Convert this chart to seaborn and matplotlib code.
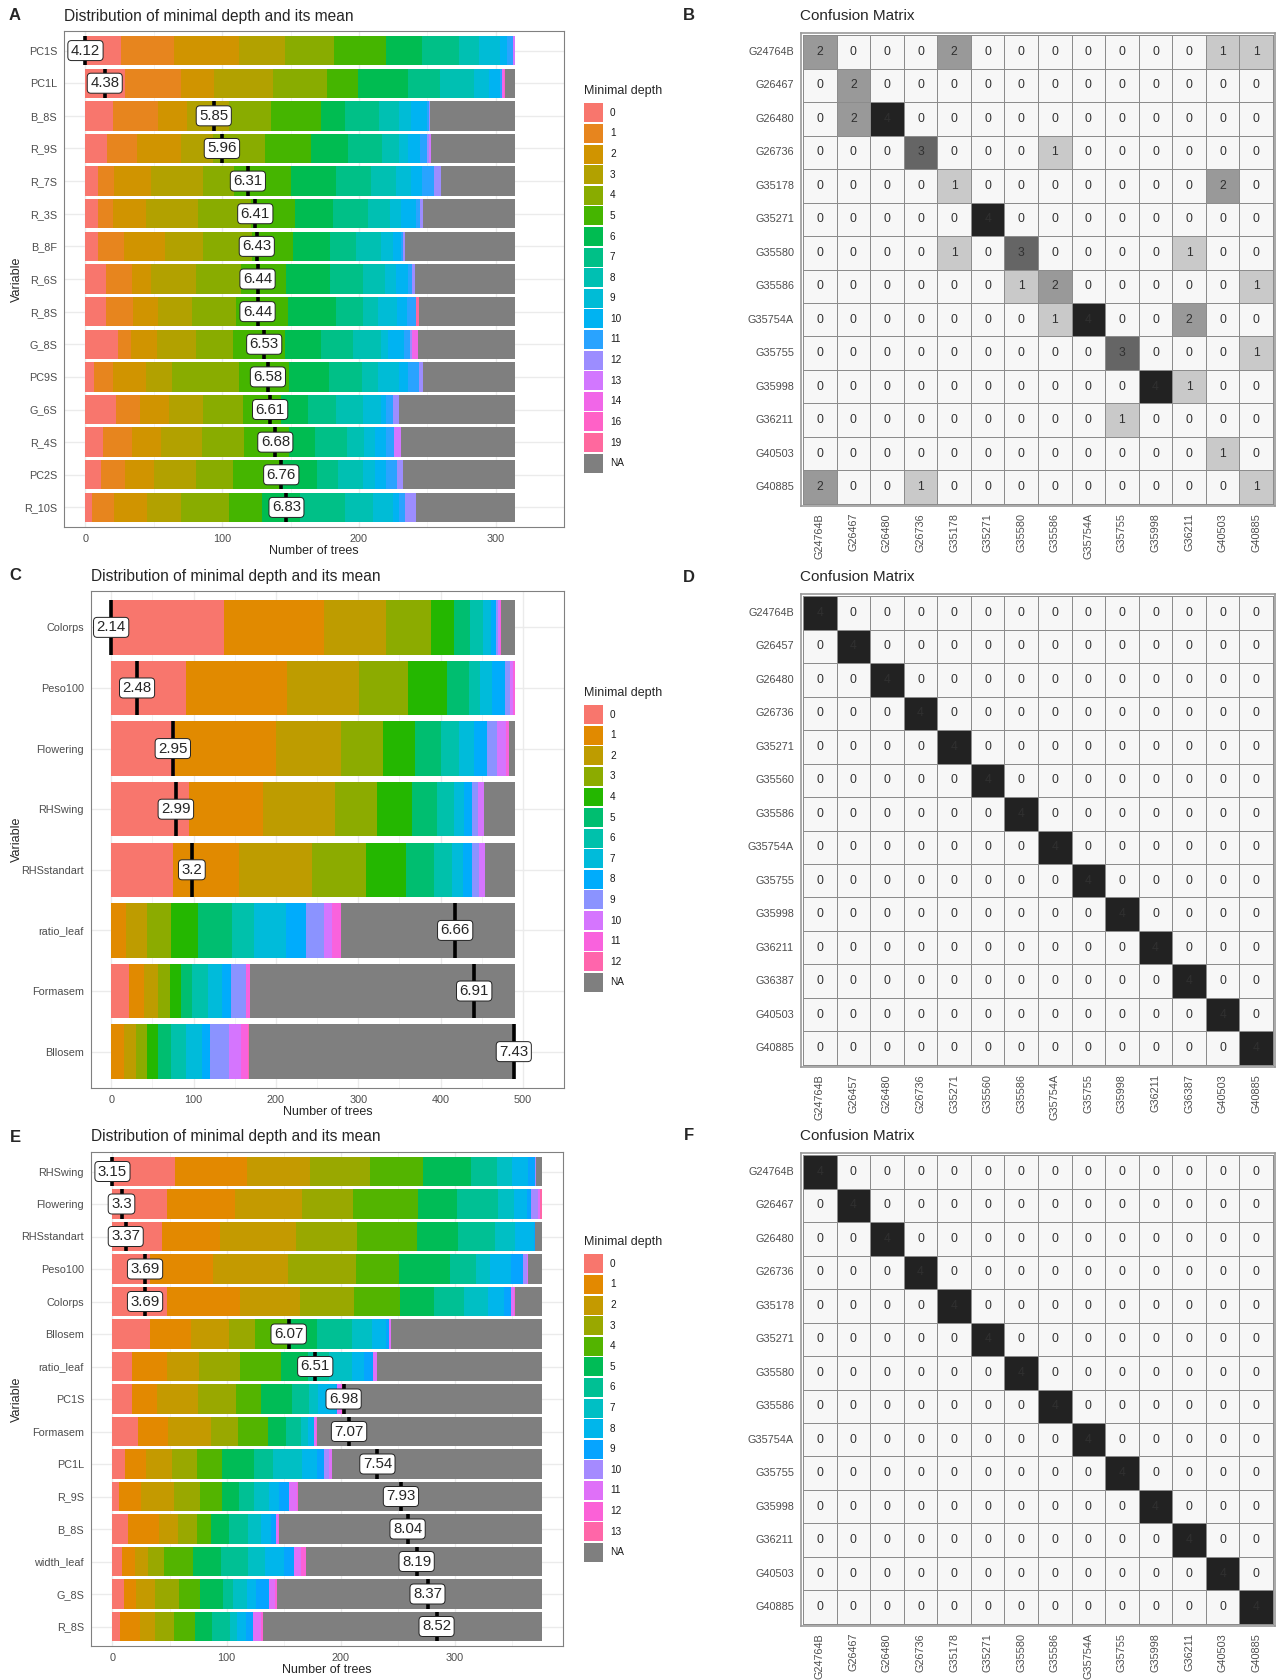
import math
import numpy as np
import pandas as pd
import matplotlib
matplotlib.use("Agg")
import matplotlib.pyplot as plt
from matplotlib.patches import Rectangle
from matplotlib.colors import LinearSegmentedColormap
import seaborn as sns

# ------------------------------------------------------------------ data
A_vars = ["PC1S", "PC1L", "B_8S", "R_9S", "R_7S", "R_3S", "B_8F", "R_6S",
          "R_8S", "G_8S", "PC9S", "G_6S", "R_4S", "PC2S", "R_10S"]
A_means = [4.12, 4.38, 5.85, 5.96, 6.31, 6.41, 6.43, 6.44, 6.44, 6.53,
           6.58, 6.61, 6.68, 6.76, 6.83]
A_levels = ["0", "1", "2", "3", "4", "5", "6", "7", "8", "9", "10", "11",
            "12", "13", "14", "16", "19", "NA"]
A_counts = [
    [26, 39, 47, 34, 36, 38, 26, 27, 15, 15, 5, 5, 0, 1, 0, 0, 0, 0],
    [29, 41, 24, 43, 40, 22, 37, 23, 25, 11, 8, 2, 0, 0, 1, 1, 0, 7],
    [20, 33, 21, 31, 31, 36, 18, 25, 14, 9, 12, 1, 1, 0, 0, 0, 0, 62],
    [16, 22, 32, 23, 38, 34, 27, 25, 12, 7, 9, 5, 1, 2, 0, 0, 0, 61],
    [9, 12, 27, 38, 23, 41, 33, 26, 18, 11, 8, 9, 5, 0, 0, 0, 0, 54],
    [9, 11, 24, 38, 39, 32, 28, 26, 16, 8, 11, 3, 2, 0, 0, 0, 0, 67],
    [9, 19, 30, 28, 36, 30, 27, 19, 18, 9, 6, 1, 2, 0, 0, 0, 0, 80],
    [15, 19, 14, 33, 33, 33, 32, 24, 16, 8, 9, 3, 2, 0, 0, 0, 0, 73],
    [15, 20, 18, 25, 32, 38, 35, 20, 11, 14, 7, 7, 0, 0, 0, 0, 2, 70],
    [24, 9, 19, 29, 27, 38, 26, 24, 20, 5, 12, 4, 2, 0, 4, 0, 0, 71],
    [6, 14, 24, 19, 49, 37, 29, 24, 12, 15, 7, 8, 3, 0, 0, 0, 0, 67],
    [22, 18, 21, 25, 29, 28, 20, 20, 20, 13, 4, 5, 4, 0, 0, 0, 0, 85],
    [13, 21, 21, 30, 31, 33, 19, 23, 13, 8, 8, 6, 0, 5, 0, 0, 0, 83],
    [11, 18, 21, 31, 27, 36, 25, 16, 18, 9, 8, 8, 4, 0, 0, 0, 0, 82],
    [5, 16, 24, 25, 35, 24, 28, 33, 20, 15, 4, 5, 8, 0, 0, 0, 0, 72],
]
A_label_span = 147
A_xticks = [0, 100, 200, 300]

C_vars = ["Colorps", "Peso100", "Flowering", "RHSwing", "RHSstandart",
          "ratio_leaf", "Formasem", "Bllosem"]
C_means = [2.14, 2.48, 2.95, 2.99, 3.2, 6.66, 6.91, 7.43]
C_levels = ["0", "1", "2", "3", "4", "5", "6", "7", "8", "9", "10", "11",
            "12", "NA"]
C_counts = [
    [137, 122, 75, 54, 28, 20, 16, 9, 6, 3, 2, 2, 0, 16],
    [91, 122, 88, 59, 48, 27, 13, 15, 15, 6, 4, 2, 0, 0],
    [77, 123, 79, 51, 39, 32, 21, 19, 16, 12, 11, 3, 0, 7],
    [94, 90, 88, 51, 42, 31, 21, 11, 10, 8, 7, 0, 0, 37],
    [75, 80, 89, 65, 49, 34, 22, 13, 11, 9, 7, 0, 0, 36],
    [0, 18, 25, 30, 33, 41, 27, 38, 25, 21, 10, 11, 0, 211],
    [22, 18, 17, 14, 14, 13, 19, 18, 10, 19, 0, 5, 0, 321],
    [0, 15, 15, 13, 14, 16, 18, 19, 10, 23, 15, 8, 2, 322],
]
C_label_span = 489
C_xticks = [0, 100, 200, 300, 400, 500]

E_vars = ["RHSwing", "Flowering", "RHSstandart", "Peso100", "Colorps",
          "Bllosem", "ratio_leaf", "PC1S", "Formasem", "PC1L", "R_9S",
          "B_8S", "width_leaf", "G_8S", "R_8S"]
E_means = [3.15, 3.3, 3.37, 3.69, 3.69, 6.07, 6.51, 6.98, 7.07, 7.54, 7.93,
           8.04, 8.19, 8.37, 8.52]
E_levels = ["0", "1", "2", "3", "4", "5", "6", "7", "8", "9", "10", "11",
            "12", "13", "NA"]
E_counts = [
    [55, 63, 55, 53, 46, 42, 23, 13, 14, 6, 1, 0, 0, 0, 5],
    [48, 59, 59, 45, 57, 34, 36, 14, 11, 4, 6, 2, 0, 1, 0],
    [43, 51, 67, 53, 53, 36, 32, 18, 16, 1, 0, 0, 0, 0, 6],
    [33, 55, 66, 59, 38, 45, 23, 12, 18, 11, 3, 1, 0, 0, 12],
    [48, 64, 52, 48, 40, 30, 26, 21, 14, 6, 0, 3, 1, 0, 23],
    [33, 36, 33, 23, 28, 26, 31, 17, 13, 2, 0, 2, 0, 0, 132],
    [17, 31, 28, 36, 36, 23, 19, 20, 10, 8, 0, 4, 0, 0, 144],
    [17, 22, 36, 33, 22, 27, 15, 8, 16, 1, 0, 3, 1, 0, 175],
    [22, 27, 37, 24, 26, 16, 13, 6, 6, 0, 0, 1, 1, 0, 197],
    [11, 18, 23, 22, 22, 28, 17, 25, 13, 6, 5, 2, 0, 0, 184],
    [6, 19, 29, 23, 19, 15, 13, 13, 9, 9, 0, 7, 1, 0, 213],
    [14, 27, 16, 17, 12, 16, 17, 11, 9, 4, 0, 2, 1, 0, 230],
    [8, 12, 11, 14, 26, 24, 24, 15, 16, 9, 0, 6, 5, 0, 206],
    [10, 11, 16, 21, 19, 20, 9, 12, 8, 11, 0, 5, 2, 0, 232],
    [7, 17, 13, 17, 18, 15, 16, 6, 8, 6, 0, 7, 2, 0, 244],
]
E_label_span = 284
E_xticks = [0, 100, 200, 300]

B_labels = ["G24764B", "G26467", "G26480", "G26736", "G35178", "G35271",
            "G35580", "G35586", "G35754A", "G35755", "G35998", "G36211",
            "G40503", "G40885"]
B_matrix = [
    [2, 0, 0, 0, 2, 0, 0, 0, 0, 0, 0, 0, 1, 1],
    [0, 2, 0, 0, 0, 0, 0, 0, 0, 0, 0, 0, 0, 0],
    [0, 2, 4, 0, 0, 0, 0, 0, 0, 0, 0, 0, 0, 0],
    [0, 0, 0, 3, 0, 0, 0, 1, 0, 0, 0, 0, 0, 0],
    [0, 0, 0, 0, 1, 0, 0, 0, 0, 0, 0, 0, 2, 0],
    [0, 0, 0, 0, 0, 4, 0, 0, 0, 0, 0, 0, 0, 0],
    [0, 0, 0, 0, 1, 0, 3, 0, 0, 0, 0, 1, 0, 0],
    [0, 0, 0, 0, 0, 0, 1, 2, 0, 0, 0, 0, 0, 1],
    [0, 0, 0, 0, 0, 0, 0, 1, 4, 0, 0, 2, 0, 0],
    [0, 0, 0, 0, 0, 0, 0, 0, 0, 3, 0, 0, 0, 1],
    [0, 0, 0, 0, 0, 0, 0, 0, 0, 0, 4, 1, 0, 0],
    [0, 0, 0, 0, 0, 0, 0, 0, 0, 1, 0, 0, 0, 0],
    [0, 0, 0, 0, 0, 0, 0, 0, 0, 0, 0, 0, 1, 0],
    [2, 0, 0, 1, 0, 0, 0, 0, 0, 0, 0, 0, 0, 1],
]

D_labels = ["G24764B", "G26457", "G26480", "G26736", "G35271", "G35560",
            "G35586", "G35754A", "G35755", "G35998", "G36211", "G36387",
            "G40503", "G40885"]
D_matrix = [
    [4, 0, 0, 0, 0, 0, 0, 0, 0, 0, 0, 0, 0, 0],
    [0, 4, 0, 0, 0, 0, 0, 0, 0, 0, 0, 0, 0, 0],
    [0, 0, 4, 0, 0, 0, 0, 0, 0, 0, 0, 0, 0, 0],
    [0, 0, 0, 4, 0, 0, 0, 0, 0, 0, 0, 0, 0, 0],
    [0, 0, 0, 0, 4, 0, 0, 0, 0, 0, 0, 0, 0, 0],
    [0, 0, 0, 0, 0, 4, 0, 0, 0, 0, 0, 0, 0, 0],
    [0, 0, 0, 0, 0, 0, 4, 0, 0, 0, 0, 0, 0, 0],
    [0, 0, 0, 0, 0, 0, 0, 4, 0, 0, 0, 0, 0, 0],
    [0, 0, 0, 0, 0, 0, 0, 0, 4, 0, 0, 0, 0, 0],
    [0, 0, 0, 0, 0, 0, 0, 0, 0, 4, 0, 0, 0, 0],
    [0, 0, 0, 0, 0, 0, 0, 0, 0, 0, 4, 0, 0, 0],
    [0, 0, 0, 0, 0, 0, 0, 0, 0, 0, 0, 4, 0, 0],
    [0, 0, 0, 0, 0, 0, 0, 0, 0, 0, 0, 0, 4, 0],
    [0, 0, 0, 0, 0, 0, 0, 0, 0, 0, 0, 0, 0, 4],
]

F_labels = ["G24764B", "G26467", "G26480", "G26736", "G35178", "G35271",
            "G35580", "G35586", "G35754A", "G35755", "G35998", "G36211",
            "G40503", "G40885"]
F_matrix = [
    [4, 0, 0, 0, 0, 0, 0, 0, 0, 0, 0, 0, 0, 0],
    [0, 4, 0, 0, 0, 0, 0, 0, 0, 0, 0, 0, 0, 0],
    [0, 0, 4, 0, 0, 0, 0, 0, 0, 0, 0, 0, 0, 0],
    [0, 0, 0, 4, 0, 0, 0, 0, 0, 0, 0, 0, 0, 0],
    [0, 0, 0, 0, 4, 0, 0, 0, 0, 0, 0, 0, 0, 0],
    [0, 0, 0, 0, 0, 4, 0, 0, 0, 0, 0, 0, 0, 0],
    [0, 0, 0, 0, 0, 0, 4, 0, 0, 0, 0, 0, 0, 0],
    [0, 0, 0, 0, 0, 0, 0, 4, 0, 0, 0, 0, 0, 0],
    [0, 0, 0, 0, 0, 0, 0, 0, 4, 0, 0, 0, 0, 0],
    [0, 0, 0, 0, 0, 0, 0, 0, 0, 4, 0, 0, 0, 0],
    [0, 0, 0, 0, 0, 0, 0, 0, 0, 0, 4, 0, 0, 0],
    [0, 0, 0, 0, 0, 0, 0, 0, 0, 0, 0, 4, 0, 0],
    [0, 0, 0, 0, 0, 0, 0, 0, 0, 0, 0, 0, 4, 0],
    [0, 0, 0, 0, 0, 0, 0, 0, 0, 0, 0, 0, 0, 4],
]

# ------------------------------------------------------------------ style
sns.set_style("white")
plt.rcParams["font.family"] = ["Liberation Sans", "DejaVu Sans"]

W, H = 1285, 1680
fig = plt.figure(figsize=(W / 100, H / 100), dpi=100)
fig.patch.set_facecolor("white")


def px_axes(l, t, r, b):
    return fig.add_axes([l / W, 1 - b / H, (r - l) / W, (b - t) / H])


def fx(x):
    return x / W


def fy(y):
    return 1 - y / H


def hcl_rgb(h, c=100.0, l=65.0):
    hr = math.radians(h)
    U, V = c * math.cos(hr), c * math.sin(hr)
    Y = 100 * ((l + 16) / 116) ** 3 if l > 7.999592 else 100 * l / 903.3
    u = U / (13 * l) + 0.1978398
    v = V / (13 * l) + 0.4683363
    X = 9.0 * Y * u / (4 * v)
    Z = -X / 3 - 5 * Y + 3 * Y / v
    r = (3.240479 * X - 1.537150 * Y - 0.498535 * Z) / 100
    g = (-0.969256 * X + 1.875992 * Y + 0.041556 * Z) / 100
    b = (0.055648 * X - 0.204043 * Y + 1.057311 * Z) / 100

    def gt(x):
        x = 1.055 * x ** (1 / 2.4) - 0.055 if x > 0.0031308 else 12.92 * x
        return min(max(x, 0.0), 1.0)
    return (gt(r), gt(g), gt(b))


def hue_pal(n):
    return [hcl_rgb(15 + i * 360.0 / n) for i in range(n)]


TICK_KW = dict(length=3, width=0.6, color="#333333", labelsize=7.8,
               labelcolor="#4D4D4D", pad=2)
TITLE = "Distribution of minimal depth and its mean"


def draw_legend(levels, pal, panel_mid):
    pitch = 20.6
    n = len(levels)
    first = panel_mid + 9 - (n - 1) / 2 * pitch
    fig.text(fx(584), fy(first - 22), "Minimal depth", fontsize=9,
             ha="left", va="center")
    for i, lev in enumerate(levels):
        yc = first + i * pitch
        fig.patches.append(Rectangle((fx(583.5), fy(yc + 9.5)), 19 / W,
                                     19 / H, transform=fig.transFigure,
                                     facecolor=pal[i], edgecolor="none"))
        fig.text(fx(610), fy(yc), lev, fontsize=7.2, ha="left", va="center",
                 color="#1A1A1A")


def draw_depth(box, variables, means, levels, counts, span, xticks, letter):
    l, t, r, b = box
    ax = px_axes(l, t, r, b)
    n = len(variables)
    pal = hue_pal(len(levels) - 1) + [(0.498, 0.498, 0.498)]
    cum = np.cumsum(np.array(counts, dtype=float), axis=1)
    N = cum[:, -1].max()
    for k in range(len(levels) - 1, -1, -1):
        df = pd.DataFrame({"variable": variables, "value": cum[:, k]})
        sns.barplot(data=df, x="value", y="variable", order=variables,
                    orient="h", color=pal[k], saturation=1, width=0.9,
                    errorbar=None, linewidth=0, ax=ax)
    ax.set_xlim(-0.05 * N, 1.05 * N)
    ax.set_ylim(n - 1 + 0.6, -0.6)
    mn, mx = min(means), max(means)
    for i, m in enumerate(means):
        lx = (m - mn) / (mx - mn) * span
        ax.vlines(lx, i - 0.45, i + 0.45, colors="black", lw=2.6, zorder=5)
        ax.text(lx, i, f"{m:g}", ha="center", va="center", fontsize=10.8,
                zorder=6,
                bbox=dict(boxstyle="round,pad=0.2,rounding_size=0.25",
                          fc="white", ec="#222222", lw=0.7))
    ax.set_xticks(xticks)
    ax.set_xticks([x + 50 for x in xticks], minor=True)
    ax.set_yticks(range(n))
    ax.set_yticklabels(variables)
    ax.tick_params(axis="both", which="major", **TICK_KW)
    ax.tick_params(axis="x", which="minor", length=0)
    ax.set_axisbelow(True)
    ax.grid(True, which="major", color="#EBEBEB", lw=1.0)
    ax.grid(True, which="minor", axis="x", color="#F2F2F2", lw=0.6)
    for s in ax.spines.values():
        s.set_visible(True)
        s.set_color("#808080")
        s.set_linewidth(0.8)
    ax.set_xlabel("Number of trees", fontsize=9, labelpad=1.0)
    ax.set_ylabel("Variable", fontsize=9)
    ax.yaxis.set_label_coords((23 - l) / (r - l), 0.5)
    draw_legend(levels, pal, (t + b) / 2)
    fig.text(fx(l), fy(t - 15), TITLE, fontsize=11.2, ha="left",
             va="center")
    fig.text(fx(15), fy(t - 15), letter, fontsize=12, fontweight="bold",
             ha="center", va="center")
    return ax


cm_cmap = LinearSegmentedColormap.from_list(
    "cm", [(0.0, "#F7F7F7"), (0.25, "#C9C9C9"), (0.5, "#999999"),
           (0.75, "#666666"), (1.0, "#222222")])


def draw_cm(top, labels, matrix, letter):
    ax = px_axes(801, top - 2, 1275, top + 471)
    df = pd.DataFrame(matrix, index=labels, columns=labels)
    sns.heatmap(df, ax=ax, cmap=cm_cmap, vmin=0, vmax=4, annot=True,
                fmt="d", cbar=False, linewidths=0.6, linecolor="#8C8C8C",
                annot_kws={"fontsize": 8.7, "color": "#303030"})
    nn = len(labels)
    ax.set_xlim(-0.06, nn + 0.06)
    ax.set_ylim(nn + 0.06, -0.06)
    ax.set_xticks(np.arange(nn) + 0.5)
    ax.set_yticks(np.arange(nn) + 0.5)
    ax.set_xticklabels(labels, rotation=90)
    ax.set_yticklabels(labels, rotation=0)
    ax.tick_params(axis="both", **TICK_KW)
    ax.set_xlabel("")
    ax.set_ylabel("")
    for s in ax.spines.values():
        s.set_visible(True)
        s.set_color("#9A9A9A")
        s.set_linewidth(1.2)
    fig.text(fx(800), fy(top - 19), "Confusion Matrix", fontsize=11,
             ha="left", va="center")
    fig.text(fx(689), fy(top - 19), letter, fontsize=12,
             fontweight="bold", ha="center", va="center")
    return ax


draw_depth((64, 31, 564, 527), A_vars, A_means, A_levels, A_counts,
           A_label_span, A_xticks, "A")
draw_depth((91, 591, 564, 1088), C_vars, C_means, C_levels, C_counts,
           C_label_span, C_xticks, "C")
draw_depth((91, 1152, 563, 1646), E_vars, E_means, E_levels, E_counts,
           E_label_span, E_xticks, "E")

draw_cm(35, B_labels, B_matrix, "B")
draw_cm(596, D_labels, D_matrix, "D")
draw_cm(1155, F_labels, F_matrix, "F")

fig.savefig("out.png", dpi=100, facecolor="white")
